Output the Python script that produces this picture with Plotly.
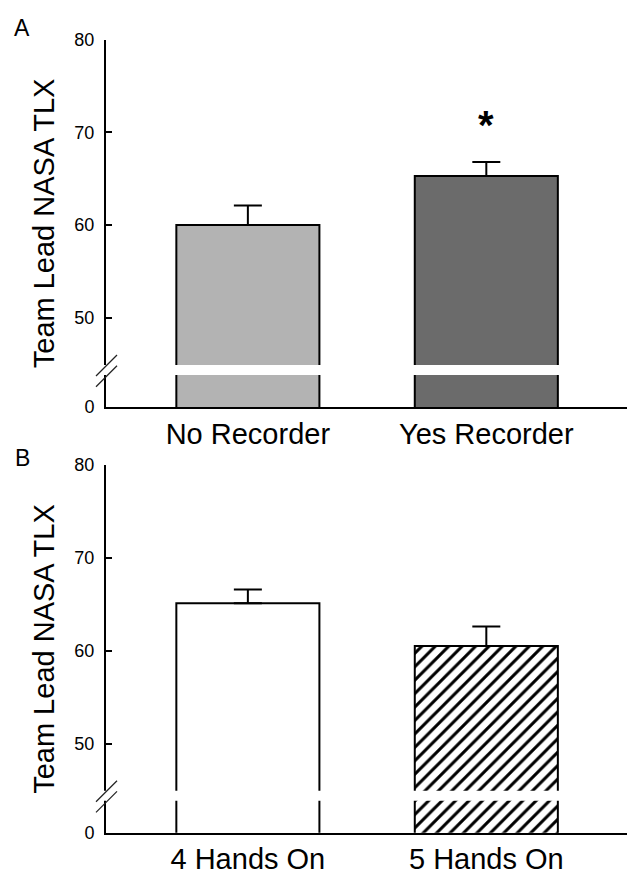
import plotly.graph_objects as go

W, H = 627, 869

# ---- data ----
categories_a = ["No Recorder", "Yes Recorder"]
means_a = [60.0, 65.3]
errors_a = [2.1, 1.5]
colors_a = ["#b3b3b3", "#6b6b6b"]

categories_b = ["4 Hands On", "5 Hands On"]
means_b = [65.1, 60.5]
errors_b = [1.5, 2.1]
patterns_b = ["", "/"]

ytick_vals = [40.4, 50, 60, 70, 80]
ytick_text = ["0", "50", "60", "70", "80"]
y_title = "Team Lead NASA TLX"
panel_labels = ["A", "B"]
signif_label = "*"

FONT = "Liberation Sans, Arial, sans-serif"
Y_RANGE = [40.4, 80]
BREAK = [43.85, 44.93]


def px_x(p):
    return p / W


def px_y(p):
    return 1 - p / H


fig = go.Figure()

fig.add_trace(go.Bar(
    x=categories_a, y=means_a, width=0.6,
    marker=dict(color=colors_a, line=dict(color="black", width=2)),
    error_y=dict(type="data", array=errors_a, arrayminus=[0] * len(errors_a),
                 symmetric=False, color="black", thickness=2, width=14),
    xaxis="x", yaxis="y", showlegend=False,
))

fig.add_trace(go.Bar(
    x=categories_b, y=means_b, width=0.6,
    marker=dict(color="white", line=dict(color="black", width=2),
                pattern=dict(shape=patterns_b, fgcolor="black", bgcolor="white",
                             size=9.5, solidity=0.32)),
    error_y=dict(type="data", array=errors_b, arrayminus=[0] * len(errors_b),
                 symmetric=False, color="black", thickness=2, width=14),
    xaxis="x2", yaxis="y2", showlegend=False,
))

x_dom = [px_x(106), 1.0]
ya_dom = [px_y(407), px_y(39.5)]
yb_dom = [px_y(832.7), px_y(465)]

common_x = dict(showline=True, linecolor="black", showgrid=False, zeroline=False,
                automargin=False, ticks="", range=[-0.595, 1.59],
                tickfont=dict(family=FONT, size=29, color="black"),
                ticklabelstandoff=0)
common_y = dict(showline=True, linecolor="black", linewidth=2, showgrid=False, zeroline=False,
                automargin=False, ticks="inside", ticklen=6, tickwidth=2, tickcolor="black",
                range=Y_RANGE, tickmode="array", tickvals=ytick_vals, ticktext=ytick_text,
                tickfont=dict(family=FONT, size=18, color="black"), ticklabelstandoff=6)

fig.update_layout(
    template="none",
    width=W, height=H, margin=dict(l=0, r=0, t=0, b=0, pad=0, autoexpand=False),
    paper_bgcolor="white", plot_bgcolor="white",
    font=dict(family=FONT, color="black"),
    xaxis=dict(domain=x_dom, anchor="y", linewidth=2, **common_x),
    yaxis=dict(domain=ya_dom, anchor="x", **common_y),
    xaxis2=dict(domain=x_dom, anchor="y2", linewidth=1.5, **common_x),
    yaxis2=dict(domain=yb_dom, anchor="x2", **common_y),
)

shapes = []
annotations = []
for yref, dom, lab, lab_y in [("y", ya_dom, panel_labels[0], 28), ("y2", yb_dom, panel_labels[1], 458)]:
    # white band marking the axis break
    shapes.append(dict(type="rect", xref="paper", yref=yref, x0=px_x(100), x1=1.0,
                       y0=BREAK[0], y1=BREAK[1], fillcolor="white", line=dict(width=0),
                       layer="above"))
    # two slashes on the y axis
    for dy in (0.0, -1.15):
        shapes.append(dict(type="line", xref="paper", yref=yref,
                           x0=px_x(96), x1=px_x(117),
                           y0=43.74 + dy, y1=46.0 + dy,
                           line=dict(color="#222222", width=1.3), layer="above"))
    annotations.append(dict(text=y_title, textangle=-90, xref="paper", yref="paper",
                            x=px_x(44), y=(dom[0] + dom[1]) / 2, xanchor="center",
                            yanchor="middle", showarrow=False,
                            font=dict(family=FONT, size=29, color="black")))
    annotations.append(dict(text=lab, xref="paper", yref="paper", x=px_x(22), y=px_y(lab_y),
                            xanchor="center", yanchor="middle", showarrow=False,
                            font=dict(family=FONT, size=23, color="black")))

annotations.append(dict(text="<b>" + signif_label + "</b>", xref="x", yref="paper",
                        x=categories_a[1], y=px_y(125), xanchor="center", yanchor="middle",
                        showarrow=False, font=dict(family=FONT, size=40, color="black")))

fig.update_layout(shapes=shapes, annotations=annotations)

fig.write_html("out.html", config={"displayModeBar": False},
               post_script="document.body.style.margin='0';document.body.style.overflow='hidden';")
